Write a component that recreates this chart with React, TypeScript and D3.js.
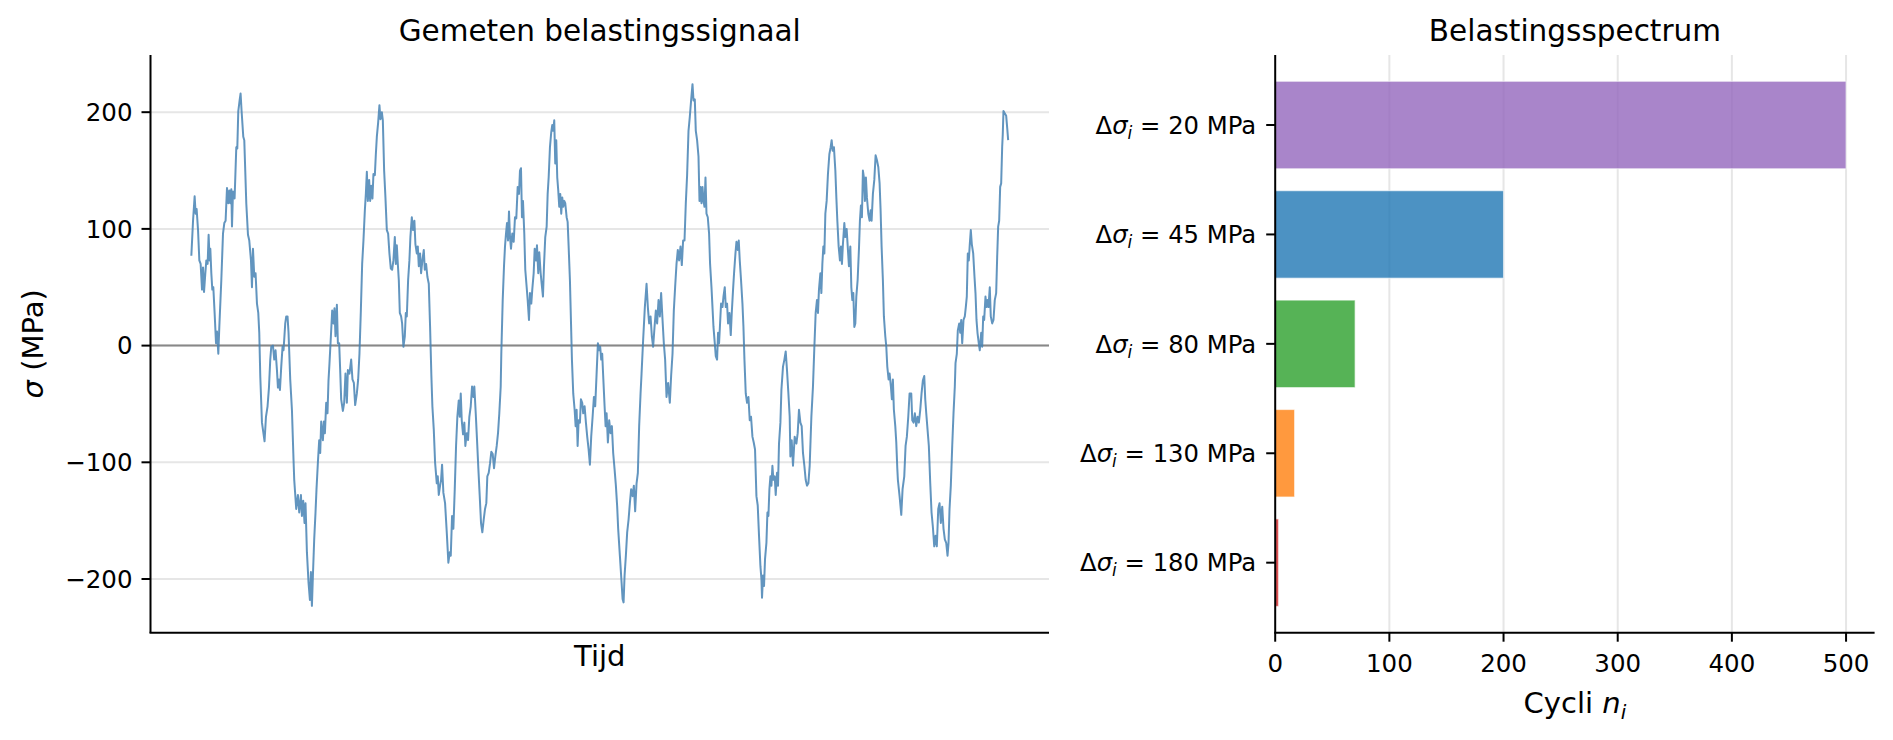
import * as d3 from "d3";

// gemeten signaal: [tijd (willekeurige eenheid), sigma (MPa)]
const signaal: [number, number][] = [
  [191, 77], [192.7, 107], [194.3, 128], [195.3, 113], [196.3, 117], [197.7, 99], [199, 73], [200.3, 70], [201.7, 48], [202.7, 67],
  [203.7, 46], [205, 62], [206, 73], [207.3, 70], [208.3, 95], [209.3, 73], [210, 83], [211, 62], [212, 48], [213, 50],
  [214.3, 28], [215.7, 2], [216.7, 12], [218, -7], [219, 16], [221, 56], [222.7, 96], [224, 105], [225.3, 107], [226.7, 135],
  [228, 122], [229, 133], [230, 122], [231, 134], [231.7, 102], [232.7, 132], [234.3, 126], [236, 170], [237, 169], [238, 201],
  [239.3, 210], [240.3, 216], [241.3, 201], [243, 179], [244, 176], [246, 122], [247.7, 95], [249, 90], [250.7, 73], [251.7, 50],
  [252.7, 83], [254, 59], [255.3, 62], [256.7, 36], [258, 28], [259, 11], [260, -26], [261.7, -66], [264.3, -82], [265.7, -61],
  [267.3, -52], [268.7, -36], [270, -12], [271, -1], [272.7, 0], [274, -12], [275.3, -4], [276.7, -21], [277.7, -36], [278.7, -29],
  [279.7, -38], [281, -18], [282.3, -1], [283.3, -4], [285, 19], [286, 25], [287.3, 25], [288.3, 11], [290, -29], [291.7, -55],
  [293.3, -98], [294, -115], [296, -140], [297.7, -128], [299, -143], [300.7, -128], [301.7, -146], [303, -133], [304.3, -152], [305.3, -135],
  [306.7, -177], [308.3, -203], [309.7, -218], [310.7, -194], [311.7, -223], [312.7, -197], [314, -166], [315.3, -143], [316.3, -123], [317.7, -100],
  [319, -81], [320, -92], [321, -65], [322.7, -81], [323.7, -65], [324.7, -75], [326, -49], [327.3, -58], [328.3, -30], [329.3, -15],
  [330.7, 8], [332, 30], [333.3, 19], [334.3, 32], [335.3, 8], [336.7, 35], [337.7, 2], [339, 2], [340, -21], [341, -46],
  [342.7, -56], [344, -49], [345.3, -24], [346.7, -49], [347.7, -21], [349.3, -24], [351, -12], [352.3, -29], [353.7, -32], [355, -51],
  [356.7, -41], [358, -29], [359.3, -7], [360.7, 30], [362, 70], [363.3, 90], [364.7, 116], [365.7, 130], [366.7, 149], [367.7, 124],
  [369, 142], [370, 124], [371, 137], [372.3, 126], [373.3, 147], [374.7, 146], [375.7, 164], [376.7, 179], [378, 191], [379.3, 206],
  [380.3, 194], [381.7, 200], [382.7, 193], [384, 150], [385.3, 127], [386.7, 99], [388, 96], [389.3, 79], [390.7, 66], [392, 65],
  [393.3, 73], [394.7, 93], [395.7, 70], [396.7, 86], [397.7, 70], [398.7, 56], [399.7, 28], [401, 25], [402, 19], [403.3, -1],
  [404.7, 8], [405.7, 28], [406.7, 25], [408, 56], [409.3, 73], [410.3, 93], [411.7, 110], [413, 99], [414.3, 107], [415.3, 87],
  [416.7, 79], [417.7, 85], [418.7, 68], [420, 79], [421, 62], [422.3, 73], [423.7, 82], [424.7, 65], [426, 70], [427.3, 59],
  [428.7, 53], [430, 16], [431.3, -26], [432.3, -52], [433.7, -72], [435, -100], [436.7, -118], [437.7, -112], [438.7, -128], [440, -120],
  [441, -115], [442, -102], [443.3, -126], [445, -135], [446.7, -160], [448.3, -186], [449.7, -177], [450.7, -180], [452, -146], [453.3, -157],
  [454.7, -123], [456, -86], [457.3, -61], [458.7, -47], [459.7, -61], [460.7, -41], [461.7, -64], [463, -76], [464.3, -66], [465.3, -86],
  [466.7, -75], [468, -81], [469.3, -61], [470.7, -52], [472, -35], [473.3, -44], [474.3, -35], [475.7, -58], [477, -81], [478.3, -105],
  [479.7, -129], [481, -152], [482.3, -160], [483.7, -149], [485, -140], [486.3, -135], [487.3, -112], [488.7, -109], [490, -101], [491.3, -91],
  [492.7, -93], [494, -105], [495.3, -95], [496.7, -86], [498, -75], [499.3, -58], [500.7, -35], [501.3, -7], [502.7, 39], [504, 68],
  [505, 85], [506, 96], [507, 105], [508, 90], [509, 115], [510, 93], [511, 83], [512.3, 96], [513.7, 89], [515, 110],
  [516.3, 109], [517.7, 136], [519, 130], [520, 150], [521, 152], [522, 110], [523, 124], [524.3, 96], [525.3, 65], [526.7, 50],
  [527.7, 39], [529, 22], [530, 45], [531.3, 36], [532.3, 48], [533.7, 62], [534.7, 83], [536, 73], [537, 86], [538.3, 62],
  [539.3, 80], [540.7, 62], [541.7, 53], [543, 42], [544, 68], [545.3, 93], [546.7, 102], [547.7, 130], [548.7, 144], [550, 170],
  [551.3, 183], [552.3, 189], [553.3, 184], [554.3, 193], [555.3, 156], [556.3, 176], [557.3, 144], [558.3, 133], [559.3, 119], [560.3, 130],
  [561.3, 113], [562.3, 127], [563.3, 119], [564.3, 124], [565.3, 122], [566.7, 110], [567.7, 106], [568.7, 85], [570, 56], [571, 22],
  [572, -12], [573.3, -41], [574.7, -55], [575.7, -69], [576.7, -55], [577.7, -86], [578.7, -64], [580, -66], [581, -46], [582.3, -49],
  [583.3, -58], [584.7, -52], [586, -66], [587.3, -78], [588.7, -89], [590, -102], [591.3, -78], [592.7, -61], [594, -44], [595.3, -52],
  [596.7, -24], [598, 2], [599.3, -4], [600.3, -1], [601.3, -12], [602.3, -7], [603.3, -26], [604.7, -52], [605.7, -69], [606.7, -58],
  [608, -83], [609.3, -64], [610.7, -75], [612, -69], [613.3, -92], [614.7, -106], [616, -120], [617.3, -138], [618.3, -157], [620, -180],
  [621.7, -203], [622.7, -217], [623.7, -220], [624.7, -197], [626, -180], [627.3, -160], [628.7, -149], [630, -135], [631.3, -123], [632.7, -129],
  [634, -120], [635.3, -142], [636.7, -118], [638, -109], [639.3, -69], [640.7, -41], [641.7, -24], [643.3, 5], [645, 33], [646.7, 53],
  [648, 33], [649.3, 19], [650.7, 25], [652, 8], [653.3, -1], [654.7, 16], [656, 30], [657.3, 19], [658.7, 39], [660, 25],
  [661.3, 45], [662.7, 22], [664, 2], [665.3, -12], [666.7, -44], [668.3, -32], [670, -49], [671.3, -26], [672.7, -7], [674, 30],
  [675.3, 50], [676.7, 70], [678, 82], [679.3, 73], [680.7, 85], [682, 69], [683.3, 90], [684.7, 90], [686, 122], [687.3, 146],
  [688.7, 184], [690, 196], [691.3, 210], [692.7, 224], [693.7, 210], [695, 211], [696, 184], [697.3, 176], [698.7, 162], [699.7, 124],
  [700.7, 136], [701.7, 122], [702.7, 136], [703.7, 124], [704.7, 119], [705.7, 144], [706.7, 113], [708, 110], [709.3, 96], [710.3, 70],
  [711.7, 50], [712.7, 33], [713.7, 16], [715, 2], [716, -9], [717.3, -12], [718.3, 11], [719.3, 2], [720.3, 19], [721.3, 36],
  [722.7, 33], [723.7, 42], [725, 50], [726, 33], [727.3, 36], [728.3, 19], [729.7, 28], [731, 9], [732, 28], [733.3, 48],
  [734.3, 62], [735.7, 79], [736.7, 89], [738, 82], [739, 90], [740, 73], [741.3, 56], [742.7, 36], [743.7, 16], [744.7, -12],
  [746, -41], [747.3, -49], [748.7, -44], [750, -64], [751.3, -61], [752.7, -78], [754, -83], [755.3, -89], [756.7, -129], [758, -137],
  [759.3, -163], [760.7, -189], [761.7, -200], [762.3, -216], [763.3, -197], [764.3, -206], [765.3, -183], [766.7, -169], [767.7, -143], [768.7, -146],
  [769.7, -123], [770.7, -112], [771.7, -120], [772.7, -103], [773.7, -115], [775, -112], [776, -128], [777.3, -109], [778.3, -120], [779.3, -84],
  [780.7, -66], [781.7, -38], [783.3, -18], [784.7, -12], [786, -5], [787.3, -21], [788.7, -41], [790, -61], [790.7, -95], [792, -81],
  [793.3, -103], [795, -78], [796.7, -84], [798, -75], [799.3, -55], [800.7, -66], [802, -69], [803.3, -92], [804.7, -103], [806, -115],
  [807.3, -120], [808.7, -118], [810, -103], [811.7, -61], [813.3, -35], [814.7, -1], [816, 28], [817.3, 39], [818.3, 28], [819.3, 48],
  [820.7, 62], [821.7, 45], [822.7, 70], [823.7, 85], [824.7, 79], [825.7, 113], [827, 124], [828.3, 147], [829.7, 164], [831, 170],
  [832, 176], [833, 167], [834.3, 170], [835.7, 150], [836.7, 127], [837.7, 107], [839, 85], [840.3, 73], [841.3, 85], [842.3, 70],
  [843.3, 87], [844.7, 105], [845.7, 93], [847, 100], [848.3, 82], [849.3, 68], [850.7, 85], [851.7, 50], [852.7, 39], [853.7, 45],
  [854.7, 16], [855.7, 19], [856.7, 42], [858, 56], [859.3, 82], [860.3, 107], [861.3, 120], [862.3, 110], [863.3, 150], [864.3, 144],
  [865.3, 124], [866.3, 144], [867.3, 127], [868.7, 113], [870, 107], [871, 116], [872, 107], [873.3, 130], [874.7, 142], [876, 163],
  [877.3, 159], [878.7, 153], [880, 139], [881, 116], [882, 85], [883.3, 56], [884.3, 25], [885.7, 8], [886.7, -1], [887.7, -18],
  [889, -29], [890, -24], [891.3, -35], [892.3, -46], [893.3, -29], [894.3, -55], [895.7, -69], [896.7, -83], [897.7, -105], [898.3, -115],
  [900, -129], [901.7, -145], [903, -123], [904.7, -112], [906, -86], [907.3, -78], [908.7, -61], [910, -41], [911.7, -41], [912.7, -64],
  [914, -66], [915.3, -58], [916.7, -69], [918, -61], [919.3, -66], [920.7, -55], [922, -41], [923.3, -30], [924.7, -26], [925.7, -46],
  [926.7, -58], [928, -72], [929.3, -86], [930.7, -118], [932, -143], [933.3, -155], [934.7, -172], [936, -163], [937.3, -172], [938.7, -140],
  [940, -135], [941.3, -152], [942.7, -138], [944, -157], [945.3, -166], [946.7, -169], [948, -180], [949, -169], [950, -140], [951.3, -120],
  [952.7, -86], [954, -58], [955.3, -35], [956, -15], [957.3, -7], [958.3, 13], [959.7, 19], [960.7, 11], [961.7, 22], [962.7, 2],
  [964, 22], [965.3, 25], [966.3, 33], [967.3, 42], [968.3, 79], [969.3, 73], [970.3, 87], [971.3, 99], [972.3, 87], [973.7, 79],
  [975, 59], [976, 45], [977, 22], [978, 11], [979.3, 2], [980.3, -4], [981.7, 11], [982.7, -1], [983.7, 25], [984.7, 22],
  [986, 42], [987, 33], [988, 39], [989, 33], [990.3, 50], [991.3, 25], [992.7, 19], [994, 22], [995.3, 39], [996.7, 45],
  [997.7, 76], [998.7, 102], [999.7, 107], [1000.7, 136], [1001.7, 139], [1002.7, 170], [1003.3, 181], [1004, 201], [1005.3, 199], [1006.7, 197],
  [1007.7, 187], [1008.7, 176],
];

const sigmaTicks = [-200, -100, 0, 100, 200];
const sigmaDomein = [-246, 249];

// belastingsspectrum
const spanningen = [20, 45, 80, 130, 180];
const cycli = [500, 200, 70, 17, 3];
const kleuren = ["#9467bd", "#1f77b4", "#2ca02c", "#ff7f0e", "#d62728"];
const cycliTicks = [0, 100, 200, 300, 400, 500];

const FONT = "DejaVu Sans";

export default function App() {
  // linker paneel
  const L = { x0: 150.5, x1: 1049, y0: 55, y1: 632.7 };
  const tExt = d3.extent(signaal, d => d[0]) as [number, number];
  const tPad = (tExt[1] - tExt[0]) * 0.05;
  const x = d3.scaleLinear().domain([tExt[0] - tPad, tExt[1] + tPad]).range([L.x0, L.x1]);
  const y = d3.scaleLinear().domain(sigmaDomein).range([L.y1, L.y0]);
  const line = d3.line<[number, number]>().x(d => x(d[0])).y(d => y(d[1]));

  // rechter paneel
  const R = { x0: 1275.2, x1: 1874.6, y0: 55, y1: 632.7 };
  const xb = d3.scaleLinear().domain([0, d3.max(cycli)! * 1.05]).range([R.x0, R.x1]);
  const yb = d3.scaleLinear().domain([-0.64, spanningen.length - 1 + 0.64]).range([R.y0, R.y1]);
  const barH = yb(0.8) - yb(0);

  const fmt = (v: number) => d3.format("d")(v).replace("-", "\u2212");

  return (
    <svg width={1893} height={740} style={{ position: "absolute", left: 0, top: 0, background: "#fff" }}
      fontFamily={FONT}>
      {/* ---- links: gemeten signaal ---- */}
      {sigmaTicks.map(t => (
        <line key={"g" + t} x1={L.x0} x2={L.x1} y1={y(t)} y2={y(t)} stroke="#e6e6e6" strokeWidth={2} />
      ))}
      <line x1={L.x0} x2={L.x1} y1={y(0)} y2={y(0)} stroke="#888" strokeWidth={2} />
      <path d={line(signaal)!} fill="none" stroke="#4682b4" strokeOpacity={0.85} strokeWidth={2}
        strokeLinejoin="round" />
      <line x1={L.x0} x2={L.x0} y1={L.y0} y2={L.y1} stroke="#000" strokeWidth={2} />
      <line x1={L.x0 - 1} x2={L.x1} y1={L.y1} y2={L.y1} stroke="#000" strokeWidth={2} />
      {sigmaTicks.map(t => (
        <g key={"t" + t}>
          <line x1={L.x0 - 9} x2={L.x0} y1={y(t)} y2={y(t)} stroke="#000" strokeWidth={2} />
          <text x={L.x0 - 18} y={y(t)} dy="0.36em" textAnchor="end" fontSize={24.5}>{fmt(t)}</text>
        </g>
      ))}
      <text x={(L.x0 + L.x1) / 2} y={41} textAnchor="middle" fontSize={29.5}>Gemeten belastingssignaal</text>
      <text x={(L.x0 + L.x1) / 2} y={666} textAnchor="middle" fontSize={29}>Tijd</text>
      <text transform={`translate(43,${(L.y0 + L.y1) / 2}) rotate(-90)`} textAnchor="middle" fontSize={29}>
        <tspan fontStyle="italic">σ</tspan> (MPa)
      </text>

      {/* ---- rechts: belastingsspectrum ---- */}
      {cycliTicks.slice(1).map(t => (
        <line key={"vg" + t} x1={xb(t)} x2={xb(t)} y1={R.y0} y2={R.y1} stroke="#e6e6e6" strokeWidth={2} />
      ))}
      {spanningen.map((s, i) => (
        <rect key={"b" + s} x={xb(0)} y={yb(i) - barH / 2} width={xb(cycli[i]) - xb(0)} height={barH}
          fill={kleuren[i]} fillOpacity={0.8} stroke="#fff" strokeOpacity={0.6} strokeWidth={1.2} />
      ))}
      <line x1={R.x0} x2={R.x0} y1={R.y0} y2={R.y1} stroke="#000" strokeWidth={2} />
      <line x1={R.x0 - 1} x2={R.x1} y1={R.y1} y2={R.y1} stroke="#000" strokeWidth={2} />
      {cycliTicks.map(t => (
        <g key={"xt" + t}>
          <line x1={xb(t)} x2={xb(t)} y1={R.y1} y2={R.y1 + 9} stroke="#000" strokeWidth={2} />
          <text x={xb(t)} y={672} textAnchor="middle" fontSize={24.5}>{t}</text>
        </g>
      ))}
      {spanningen.map((s, i) => (
        <g key={"yt" + s}>
          <line x1={R.x0 - 9} x2={R.x0} y1={yb(i)} y2={yb(i)} stroke="#000" strokeWidth={2} />
          <text x={R.x0 - 19} y={yb(i)} dy="0.36em" textAnchor="end" fontSize={24.3}>
            Δ<tspan fontStyle="italic">σ</tspan>
            <tspan fontStyle="italic" fontSize={17} dy={5}>i</tspan>
            <tspan dy={-5}> = {s} MPa</tspan>
          </text>
        </g>
      ))}
      <text x={(R.x0 + R.x1) / 2} y={41} textAnchor="middle" fontSize={29.5}>Belastingsspectrum</text>
      <text x={(R.x0 + R.x1) / 2} y={713} textAnchor="middle" fontSize={29}>
        Cycli <tspan fontStyle="italic">n</tspan>
        <tspan fontStyle="italic" fontSize={20} dy={6}>i</tspan>
      </text>
    </svg>
  );
}
